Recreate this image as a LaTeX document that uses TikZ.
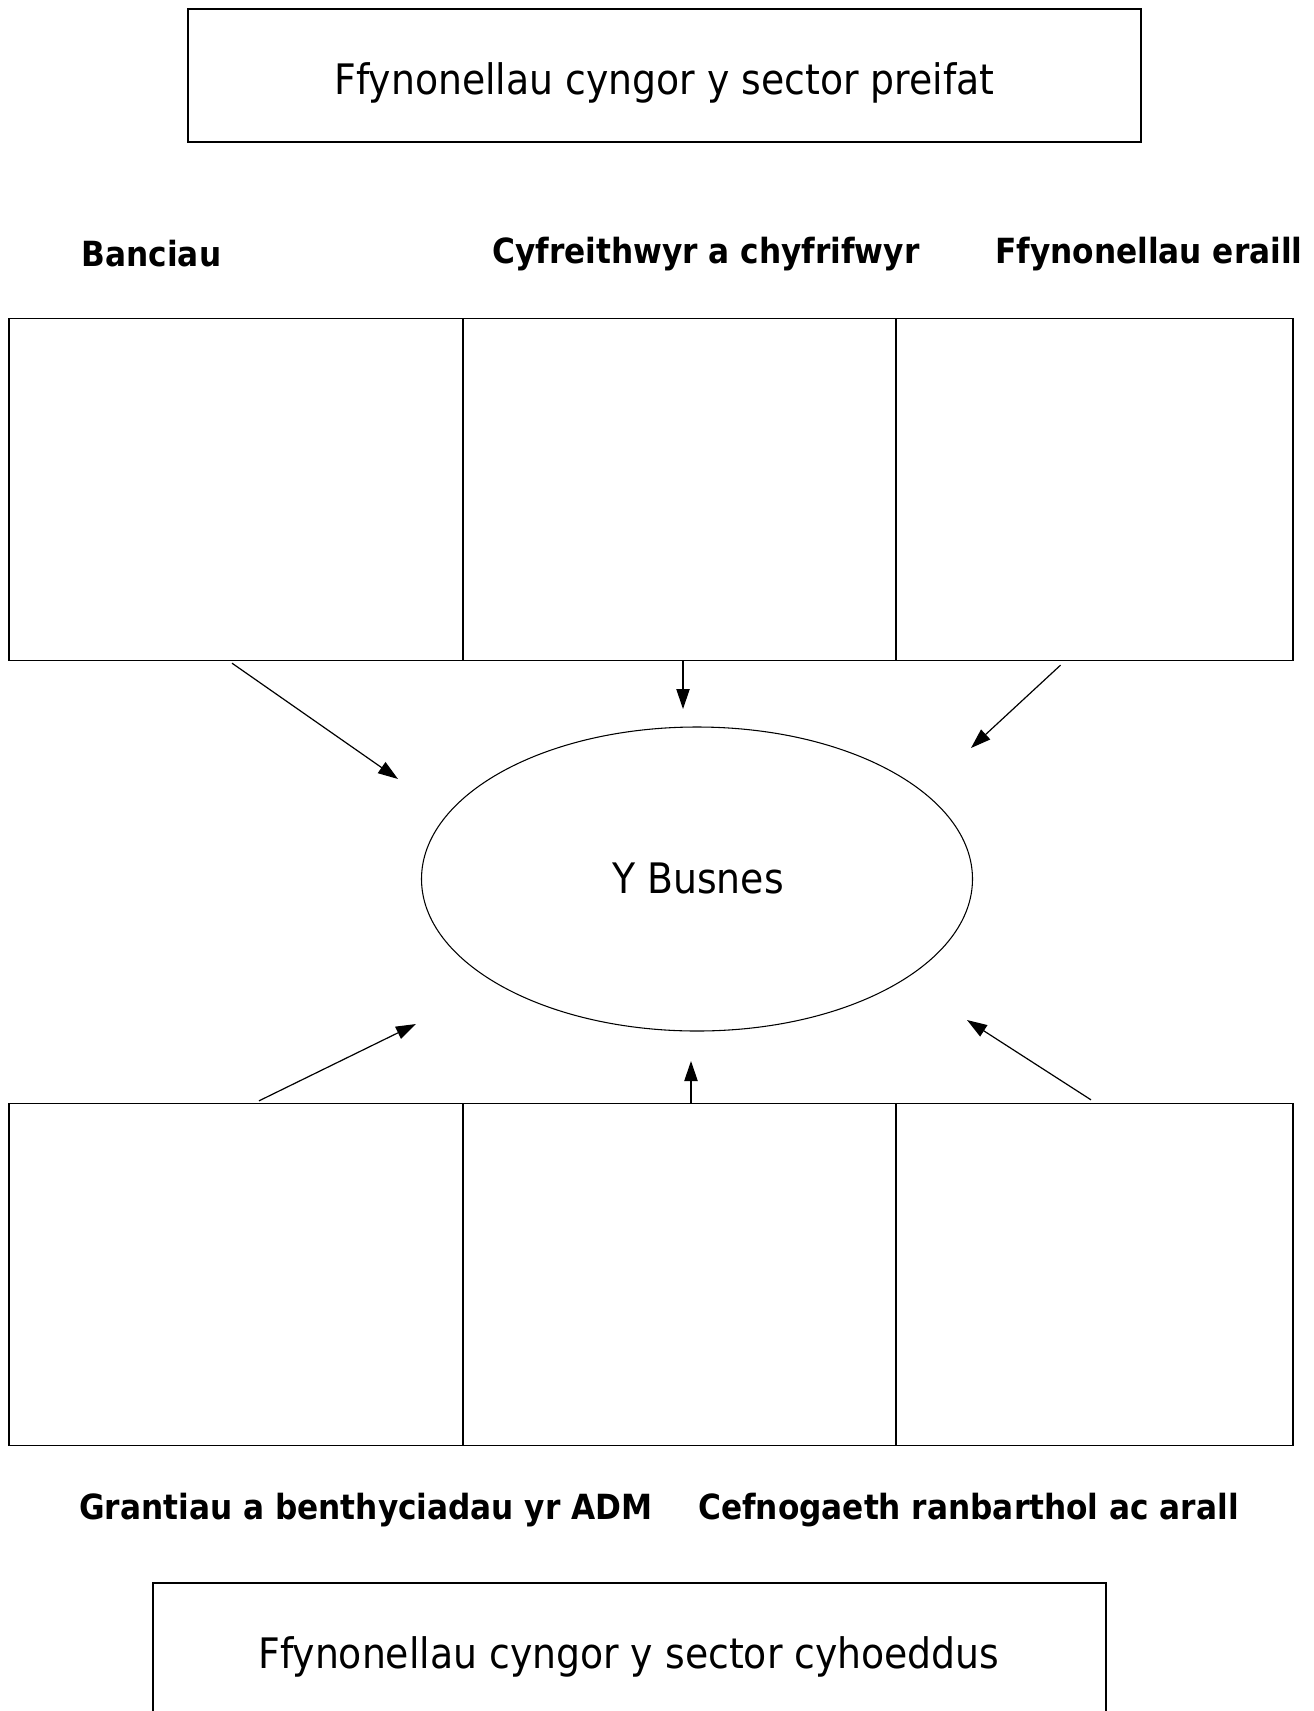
\documentclass[tikz,border=0pt]{standalone}
\usepackage{fontspec}
\setmainfont{DejaVu Sans Condensed}
\usepackage{tikz}
\usetikzlibrary{shapes.geometric, arrows.meta, calc}
\tikzset{
    bigbox/.style={draw=black, line width=0.8pt, minimum width=953*0.75pt,
                   minimum height=133*0.75pt, inner sep=0pt},
    bigtext/.style={font=\fontsize{31.5}{36}\selectfont, inner sep=0pt},
    cellbox/.style={draw=black, line width=1pt, minimum height=342*0.75pt, inner sep=0pt},
    headlabel/.style={font=\fontsize{26}{30}\selectfont\bfseries, inner sep=0pt},
    feed/.style={-{Triangle[length=15pt,width=10pt]}, line width=0.9pt}
}

\begin{document}
\begin{tikzpicture}[x=0.75pt, y=-0.75pt]
    \useasboundingbox (0,0) rectangle (1314,1711);
    \clip (0,0) rectangle (1314,1711);
    % private sector
    \node [bigbox] (private) at (664.5,75.5) {};
    \node [bigtext] (tprivate) at (664.5,83) {Ffynonellau cyngor y sector preifat};
    \node [headlabel] (lbank) at (151.5,254) {Banciau};
    \node [headlabel] (llaw) at (706,254) {Cyfreithwyr a chyfrifwyr};
    \node [headlabel] (lother) at (1149,254) {Ffynonellau eraill};
    \node [cellbox, minimum width=454*0.75pt] (bank) at (236,489.5) {};
    \node [cellbox, minimum width=433*0.75pt] (law) at (679.5,489.5) {};
    \node [cellbox, minimum width=397*0.75pt] (other) at (1094.5,489.5) {};
    % the business
    \node [ellipse, draw=black, line width=0.8pt, minimum width=551*0.75pt,
           minimum height=304*0.75pt] (busnes) at (697,879) {};
    \node [bigtext] (tbusnes) at (698,878) {Y Busnes};
    \coordinate (a1) at (398,779);
    \coordinate (a2) at (683,709);
    \coordinate (a3) at (971,748);
    \coordinate (a4) at (416,1024);
    \coordinate (a5) at (691,1061);
    \coordinate (a6) at (967,1020);
    % public sector
    \node [cellbox, minimum width=454*0.75pt] (grant) at (236,1274.5) {};
    \node [cellbox, minimum width=433*0.75pt] (region) at (679.5,1274.5) {};
    \node [cellbox, minimum width=397*0.75pt] (misc) at (1094.5,1274.5) {};
    \node [headlabel] (lgrant) at (366,1510) {Grantiau a benthyciadau yr ADM};
    \node [headlabel] (lregion) at (968.5,1510) {Cefnogaeth ranbarthol ac arall};
    \node [bigbox] (public) at (629.5,1649.5) {};
    \node [bigtext] (tpublic) at (629,1657) {Ffynonellau cyngor y sector cyhoeddus};
    % arrows
    \draw [feed] ($(bank.south)+(-4,2)$) -- (a1);
    \draw [feed] (law.south -| a2) -- (a2);
    \draw [feed] ($(other.south)+(-34,4)$) -- (a3);
    \draw [feed] ($(grant.north)+(23,-2)$) -- (a4);
    \draw [feed] (region.north -| a5) -- (a5);
    \draw [feed] ($(misc.north)+(-3.5,-3)$) -- (a6);
\end{tikzpicture}
\end{document}
